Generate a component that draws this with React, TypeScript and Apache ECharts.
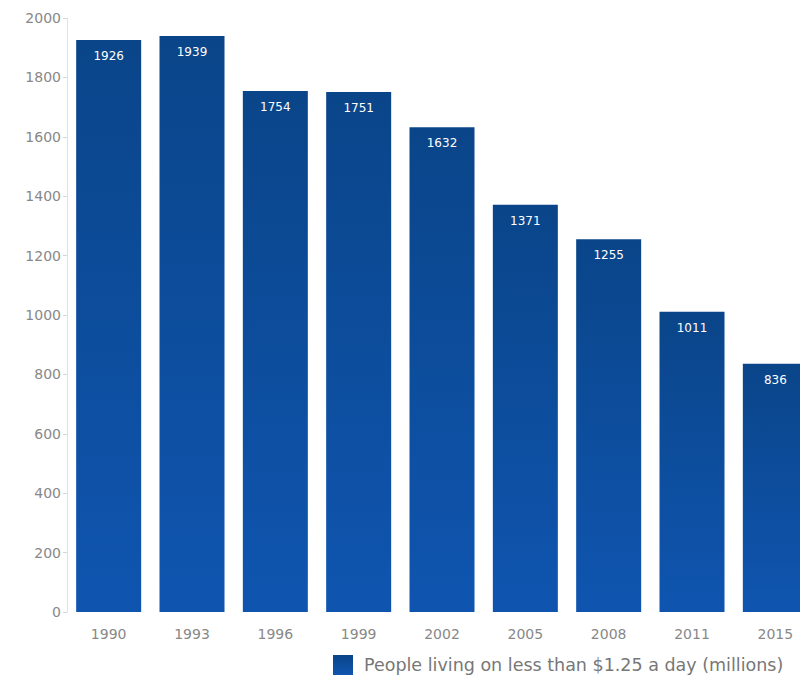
import React, { useEffect, useRef } from "react";
import * as echarts from "echarts";

const years = ["1990", "1993", "1996", "1999", "2002", "2005", "2008", "2011", "2015"];
const people = [1926, 1939, 1754, 1751, 1632, 1371, 1255, 1011, 836];
const seriesName = "People living on less than $1.25 a day (millions)";

export default function App() {
  const ref = useRef<HTMLDivElement>(null);
  useEffect(() => {
    if (!ref.current) return;
    const chart = echarts.init(ref.current, undefined, { renderer: "svg" });
    chart.setOption({
      animation: false,
      backgroundColor: "#ffffff",
      textStyle: { fontFamily: "DejaVu Sans, Verdana, sans-serif" },
      grid: { left: 67, right: 3, top: 18, bottom: 68, containLabel: false },
      legend: {
        left: 333,
        top: 655,
        icon: "rect",
        itemWidth: 20,
        itemHeight: 20,
        itemGap: 10,
        padding: 0,
        textStyle: { fontSize: 17.5, color: "#777", lineHeight: 20, padding: [0, 0, 0, 6] },
        data: [seriesName],
      },
      xAxis: {
        type: "category",
        data: years,
        axisLine: { show: false },
        axisTick: { show: false },
        axisLabel: { color: "#888", fontSize: 14, margin: 15 },
      },
      yAxis: {
        type: "value",
        min: 0,
        max: 2000,
        interval: 200,
        axisLine: { show: true, lineStyle: { color: "#e2e2e2" } },
        axisTick: { show: true, length: 4, lineStyle: { color: "#d5d5d5" } },
        splitLine: { show: false },
        axisLabel: {
          color: "#888",
          fontSize: 14,
          margin: 6,
          formatter: (v: number) => String(v),
        },
      },
      series: [
        {
          name: seriesName,
          type: "bar",
          data: people,
          barCategoryGap: "22%",
          itemStyle: {
            color: new echarts.graphic.LinearGradient(0, 0, 0, 1, [
              { offset: 0, color: "#0a4589" },
              { offset: 1, color: "#0f55b0" },
            ]),
          },
          label: {
            show: true,
            position: "insideTop",
            distance: 10,
            color: "#ffffff",
            fontSize: 12,
          },
        },
      ],
    });
    return () => chart.dispose();
  }, []);
  return (
    <div
      style={{
        position: "fixed",
        left: 0,
        top: 0,
        width: 800,
        height: 680,
        overflow: "hidden",
        background: "#fff",
      }}
    >
      <div ref={ref} style={{ width: 820, height: 680 }} />
    </div>
  );
}
